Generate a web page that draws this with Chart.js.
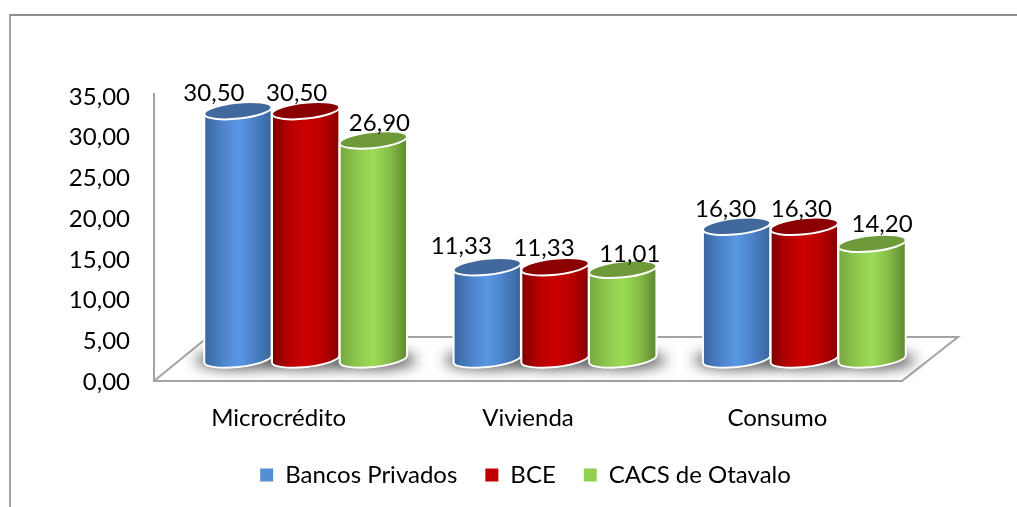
<!DOCTYPE html>
<html>
<head>
<meta charset="utf-8">
<script src="https://cdn.jsdelivr.net/npm/chart.js@4"></script>
<style>
    html, body { margin: 0; padding: 0; background: #fff; overflow: hidden; }
    #frame { position: absolute; left: 9px; top: 14px; right: 0; bottom: 0;
             border-left: 2px solid #a6a6a6; border-top: 2px solid #8f8f8f; }
    canvas { position: absolute; left: 0; top: 0; }
</style>
</head>
<body>
<div id="frame"></div>
<canvas id="rateChart" width="1017" height="507"></canvas>
<script>
const categories = ['Microcrédito', 'Vivienda', 'Consumo'];
const bancosValues = [30.50, 11.33, 16.30];
const bceValues = [30.50, 11.33, 16.30];
const cacsValues = [26.90, 11.01, 14.20];
const yTicks = [0, 5, 10, 15, 20, 25, 30, 35];

const FONT = 'Lato';
const FONT_SIZE = 24;
const AXIS_GREY = '#a3a3a3';
const DEPTH_X = 54;     // floor depth of the fake 3D plane
const DEPTH_Y = 44;
const CAP_TILT = -6 * Math.PI / 180;     // cylinder caps lean a little
const CAP_RY = 8;
const LEGEND_SHIFT = 70;    // legend is centred right of the plot, not on it

// body gradient + cap colour for each series
const cylinderStyles = [
    { stops: ['#3a669f', '#4b81c8', '#5a97e3', '#4a80c6', '#39649a'], cap: '#41699d' },
    { stops: ['#7c0000', '#b60000', '#cd0000', '#b80000', '#860000'], cap: '#8b0000' },
    { stops: ['#74a63e', '#8ec74d', '#9bdc56', '#86bb47', '#5d8830'], cap: '#6f9a3a' }
];

// value labels sit off the cylinder centre, [dx, dy] per series and category
const labelShift = [
    [[-24, -18], [-26, -21], [-11, -18]],
    [[-9, -18], [-11, -19], [-3, -18]],
    [[6, -18], [7, -16], [10, -20]]
];

function comma(v) {
    return v.toFixed(2).replace('.', ',');
}

function drawCylinder(ctx, bar, style) {
    const cx = bar.x + DEPTH_X / 2;
    const top = bar.y - DEPTH_Y / 2;
    const bottom = bar.base - DEPTH_Y / 2;
    const rx = bar.width / 2;

    const grad = ctx.createLinearGradient(cx - rx, 0, cx + rx, 0);
    style.stops.forEach((c, i) => grad.addColorStop(i / (style.stops.length - 1), c));

    ctx.beginPath();
    ctx.ellipse(cx, bottom, rx, CAP_RY, CAP_TILT, 0, Math.PI);
    ctx.ellipse(cx, top, rx, CAP_RY, CAP_TILT, Math.PI, 2 * Math.PI);
    ctx.closePath();
    ctx.fillStyle = grad;
    ctx.fill();
    ctx.strokeStyle = '#fff';
    ctx.lineWidth = 2;
    ctx.stroke();

    ctx.beginPath();
    ctx.ellipse(cx, top, rx, CAP_RY, CAP_TILT, 0, 2 * Math.PI);
    ctx.fillStyle = style.cap;
    ctx.fill();
    ctx.stroke();
}

const cylinderPlugin = {
    id: 'cylinders',
    afterLayout(chart) {
        chart.legend.left += LEGEND_SHIFT;
        chart.legend.right += LEGEND_SHIFT;
    },
    beforeDatasetsDraw(chart) {
        const ctx = chart.ctx;
        const area = chart.chartArea;
        const metas = chart.getSortedVisibleDatasetMetas().sort((a, b) => a.index - b.index);

        // floor of the 3D plane, and the axis stub above the 35 tick
        ctx.save();
        ctx.strokeStyle = AXIS_GREY;
        ctx.lineWidth = 2;
        ctx.beginPath();
        ctx.moveTo(area.left, area.bottom);
        ctx.lineTo(area.left + DEPTH_X, area.bottom - DEPTH_Y);
        ctx.lineTo(area.right + DEPTH_X + 2, area.bottom - DEPTH_Y);
        ctx.lineTo(area.right, area.bottom);
        ctx.moveTo(area.left, area.top);
        ctx.lineTo(area.left, area.top - 3);
        ctx.stroke();

        // soft shadow under the cylinders, only the blur reaches the canvas
        ctx.shadowColor = 'rgba(40,40,40,0.8)';
        ctx.shadowBlur = 14;
        ctx.shadowOffsetX = 3000;
        ctx.fillStyle = '#000';
        metas.forEach(meta => meta.data.forEach(bar => {
            ctx.beginPath();
            ctx.ellipse(bar.x + DEPTH_X / 2 - 3000, bar.base - DEPTH_Y / 2 + 1, bar.width / 2 + 9, CAP_RY + 1, 0, 0, 2 * Math.PI);
            ctx.fill();
        }));
        ctx.restore();

        ctx.save();
        metas.forEach(meta => meta.data.forEach(bar => {
            drawCylinder(ctx, bar, cylinderStyles[meta.index]);
        }));
        ctx.restore();
    },
    beforeDatasetDraw() {
        return false;   // flat bars are replaced by the cylinders above
    },
    afterDatasetsDraw(chart) {
        const ctx = chart.ctx;
        ctx.save();
        ctx.font = FONT_SIZE + 'px ' + FONT;
        ctx.fillStyle = '#000';
        ctx.textAlign = 'center';
        ctx.textBaseline = 'middle';
        chart.getSortedVisibleDatasetMetas().forEach(meta => {
            meta.data.forEach((bar, i) => {
                const shift = labelShift[meta.index][i];
                const text = comma(chart.data.datasets[meta.index].data[i]);
                ctx.fillText(text, bar.x + DEPTH_X / 2 + shift[0], bar.y - DEPTH_Y / 2 + shift[1] + 1);
            });
        });
        ctx.restore();
    }
};

new Chart(document.getElementById('rateChart'), {
    type: 'bar',
    data: {
        labels: categories,
        datasets: [
            { label: 'Bancos Privados', data: bancosValues, backgroundColor: '#558ed5' },
            { label: 'BCE', data: bceValues, backgroundColor: '#c00000' },
            { label: 'CACS de Otavalo', data: cacsValues, backgroundColor: '#92d050' }
        ]
    },
    options: {
        responsive: false,
        animation: false,
        layout: { padding: { left: 9, right: 115, top: 96, bottom: 10 } },
        datasets: { bar: { categoryPercentage: 0.815, barPercentage: 1 } },
        scales: {
            x: {
                grid: { display: false },
                border: { display: true, color: AXIS_GREY, width: 2 },
                ticks: { color: '#000', font: { family: FONT, size: FONT_SIZE }, padding: 15 },
                afterFit(scale) { scale.height = 54; }
            },
            y: {
                min: 0,
                max: 35,
                afterBuildTicks(scale) { scale.ticks = yTicks.map(v => ({ value: v })); },
                grid: { display: false },
                border: { display: true, color: AXIS_GREY, width: 2 },
                ticks: {
                    color: '#000',
                    font: { family: FONT, size: FONT_SIZE },
                    padding: 16,
                    labelOffset: 1,
                    callback: v => comma(v)
                },
                afterFit(scale) { scale.width = 145; }
            }
        },
        plugins: {
            tooltip: { enabled: false },
            legend: {
                position: 'bottom',
                labels: {
                    color: '#000',
                    font: { family: FONT, size: FONT_SIZE },
                    usePointStyle: true,
                    pointStyle: 'rect',
                    boxWidth: 13,
                    boxHeight: 13,
                    padding: 28
                }
            }
        }
    },
    plugins: [cylinderPlugin]
});
</script>
</body>
</html>
